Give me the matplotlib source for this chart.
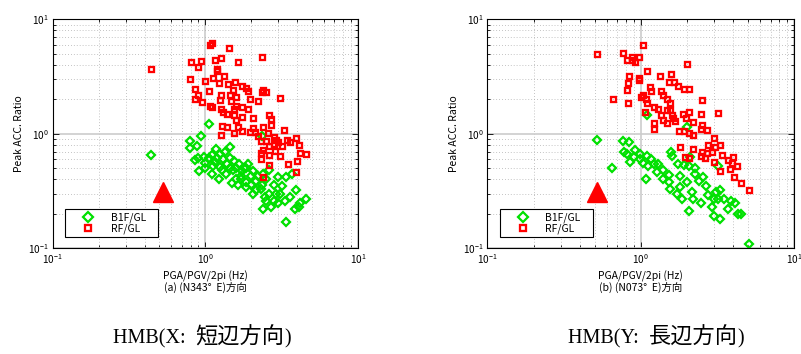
import matplotlib
matplotlib.use("Agg")
import matplotlib.pyplot as plt
from matplotlib.ticker import LogLocator, NullFormatter
from matplotlib.lines import Line2D
from matplotlib.offsetbox import TextArea, HPacker, AnnotationBbox

plt.rcParams['font.family'] = ['Noto Sans CJK JP', 'DejaVu Sans']
plt.rcParams['mathtext.fontset'] = 'dejavusans'

# (a) N343E direction
freq_rf_a = [0.44, 1.07, 1.10, 1.42, 2.35, 0.80, 0.93, 0.90, 1.16, 1.27, 1.64, 1.20, 1.20, 0.79,
             1.00, 1.13, 1.33, 1.22, 1.40, 1.56, 0.86, 1.05, 0.89, 0.86, 0.95, 1.07, 1.10, 1.27,
             1.45, 1.52, 1.48, 1.60, 1.75, 1.85, 1.90, 1.95, 2.20, 2.35, 2.40, 2.50, 3.10, 1.27,
             1.30, 1.38, 1.53, 1.60, 1.75, 1.90, 1.73, 1.58, 2.05, 1.29, 1.39, 1.64, 1.75, 2.05,
             2.10, 1.27, 1.55, 1.95, 2.20, 2.40, 2.60, 2.70, 2.70, 2.58, 2.80, 2.90, 3.30, 3.45,
             3.90, 4.10, 3.60, 3.20, 2.60, 2.40, 2.30, 2.60, 2.85, 3.10, 4.20, 4.60, 4.00, 3.50,
             2.60, 2.30, 2.40, 3.90, 2.80, 2.50, 3.00, 2.30, 1.25, 1.53]
ratio_rf_a = [3.65, 5.95, 6.20, 5.60, 4.65, 4.20, 4.35, 3.85, 4.40, 4.55, 4.20, 3.70, 3.50, 3.00,
              2.90, 3.05, 3.20, 2.80, 2.70, 2.85, 2.45, 2.35, 2.20, 2.00, 1.90, 1.75, 1.70, 2.20,
              2.20, 2.40, 1.95, 2.10, 2.60, 2.50, 2.35, 2.00, 1.95, 2.30, 2.40, 2.30, 2.05, 1.65,
              1.55, 1.50, 1.45, 1.75, 1.73, 1.65, 1.40, 1.33, 1.37, 1.17, 1.15, 1.15, 1.06, 1.12,
              1.04, 0.98, 1.02, 1.04, 0.96, 1.15, 1.47, 1.35, 1.20, 1.01, 0.93, 0.88, 1.07, 0.89,
              0.91, 0.80, 0.84, 0.78, 0.78, 0.72, 0.68, 0.65, 0.71, 0.64, 0.68, 0.67, 0.58, 0.55,
              0.53, 0.60, 0.42, 0.46, 0.82, 0.87, 0.84, 0.87, 1.98, 1.65]
freq_b1_a = [0.44, 1.06, 0.79, 0.93, 0.79, 0.88, 0.89, 0.86, 0.91, 1.00, 1.10, 1.17, 1.25, 1.35,
             1.44, 1.10, 1.23, 1.37, 1.45, 1.53, 1.63, 1.60, 1.50, 1.90, 1.85, 1.72, 1.85, 2.05,
             2.15, 2.35, 2.40, 2.50, 2.70, 2.80, 3.00, 3.10, 3.35, 3.40, 3.40, 3.70, 3.95, 3.85,
             4.10, 4.20, 4.60, 3.00, 2.80, 2.50, 2.20, 2.05, 2.00, 1.80, 1.65, 1.52, 1.38, 1.25,
             1.15, 1.05, 0.98, 1.28, 1.70, 1.85, 2.15, 2.40, 2.60, 2.35, 1.20, 1.30, 1.45, 1.60,
             1.75, 2.00, 2.30, 2.60, 2.90, 3.20, 1.12, 1.00, 2.45, 3.60]
ratio_b1_a = [0.65, 1.21, 0.87, 0.95, 0.75, 0.78, 0.61, 0.59, 0.47, 0.56, 0.65, 0.74, 0.67, 0.69,
              0.76, 0.45, 0.40, 0.45, 0.50, 0.58, 0.36, 0.40, 0.37, 0.55, 0.50, 0.43, 0.34, 0.30,
              0.32, 0.36, 0.22, 0.26, 0.23, 0.26, 0.25, 0.30, 0.26, 0.17, 0.42, 0.45, 0.32, 0.22,
              0.23, 0.25, 0.27, 0.42, 0.36, 0.40, 0.43, 0.47, 0.43, 0.50, 0.54, 0.48, 0.55, 0.51,
              0.57, 0.61, 0.63, 0.48, 0.40, 0.38, 0.39, 0.45, 0.48, 0.95, 0.62, 0.60, 0.62, 0.50,
              0.47, 0.36, 0.33, 0.30, 0.30, 0.35, 0.52, 0.50, 0.28, 0.28]

# (b) N073E direction
freq_rf_b = [0.52, 1.04, 2.00, 0.77, 0.81, 0.87, 0.91, 0.97, 0.88, 1.10, 0.84, 0.82, 0.81, 0.97,
             0.98, 0.66, 0.83, 1.33, 1.58, 1.65, 1.52, 1.75, 1.90, 2.05, 2.50, 3.20, 1.14, 1.17,
             1.04, 1.08, 1.10, 1.07, 1.22, 1.36, 1.40, 1.47, 1.55, 1.30, 1.36, 1.47, 1.60, 1.40,
             1.47, 1.63, 1.88, 2.05, 1.98, 2.20, 2.45, 2.50, 1.22, 1.22, 1.77, 1.90, 2.05, 2.18,
             2.45, 2.70, 1.80, 1.95, 2.05, 2.20, 2.50, 2.75, 3.00, 2.70, 2.90, 3.00, 3.05, 3.30,
             3.40, 3.30, 3.70, 3.90, 4.00, 4.20, 3.80, 4.05, 4.50, 5.10, 2.45, 2.60, 1.67, 1.55,
             1.00]
ratio_rf_b = [4.95, 5.95, 4.10, 5.05, 4.40, 4.40, 4.25, 4.70, 4.70, 3.55, 3.20, 2.75, 2.40, 2.95,
              3.05, 2.00, 1.85, 3.20, 3.30, 2.85, 2.85, 2.60, 2.45, 2.45, 1.97, 1.53, 2.55, 2.35,
              2.20, 2.00, 1.85, 1.55, 1.73, 2.35, 2.20, 2.00, 1.85, 1.65, 1.45, 1.60, 1.45, 1.33,
              1.25, 1.37, 1.50, 1.55, 1.37, 1.28, 1.50, 1.20, 1.25, 1.10, 1.06, 1.05, 1.02, 0.98,
              1.10, 1.08, 0.77, 0.63, 0.62, 0.74, 0.69, 0.80, 0.91, 0.68, 0.70, 0.57, 0.76, 0.80,
              0.65, 0.47, 0.59, 0.56, 0.63, 0.52, 0.49, 0.42, 0.37, 0.32, 0.64, 0.62, 1.30, 1.60,
              2.10]
freq_b1_b = [0.52, 0.65, 1.08, 1.09, 2.00, 0.77, 0.84, 0.78, 0.81, 0.85, 0.92, 0.90, 0.99, 1.10,
             1.17, 1.22, 1.12, 1.30, 1.40, 1.52, 1.52, 1.55, 1.57, 1.60, 1.75, 1.80, 1.85, 2.05,
             2.00, 2.15, 2.25, 2.40, 2.20, 2.45, 2.65, 2.75, 2.90, 3.00, 3.10, 3.20, 3.30, 3.50,
             3.70, 3.85, 4.10, 4.30, 4.50, 5.10, 2.05, 2.25, 2.55, 1.80, 1.72, 3.20, 1.90, 1.40,
             1.27, 0.99, 1.04, 2.10, 3.30, 3.00]
ratio_b1_b = [0.88, 0.50, 0.40, 1.45, 1.15, 0.87, 0.84, 0.70, 0.66, 0.57, 0.72, 0.63, 0.66, 0.64,
              0.60, 0.54, 0.52, 0.55, 0.48, 0.44, 0.38, 0.33, 0.70, 0.64, 0.55, 0.43, 0.27, 0.21,
              0.38, 0.31, 0.45, 0.39, 0.27, 0.25, 0.35, 0.29, 0.23, 0.19, 0.31, 0.27, 0.18, 0.27,
              0.22, 0.26, 0.25, 0.20, 0.20, 0.11, 0.52, 0.50, 0.42, 0.34, 0.30, 0.52, 0.53, 0.40,
              0.46, 0.60, 0.56, 0.63, 0.32, 0.27]

# building natural frequency marker (freq, ratio) for each direction
tri_a = (0.53, 0.31)
tri_b = (0.52, 0.31)

subtitles = ["(a) (N343°  E)方向", "(b) (N073°  E)方向"]
captions = [("HMB(X:  ", "短辺方向", ")"), ("HMB(Y:  ", "長辺方向", ")")]

GREEN = '#00e000'
RED = '#ff0000'
DIAMOND = dict(ls='none', marker='D', ms=4.0, mfc='none', mec=GREEN, mew=1.6)
SQUARE = dict(ls='none', marker='s', ms=3.6, mfc='none', mec=RED, mew=1.65)

fig = plt.figure(figsize=(8.01, 3.54), dpi=100)
ax_a = fig.add_axes([0.0658, 0.2986, 0.3811, 0.6469])
ax_b = fig.add_axes([0.6084, 0.2986, 0.3833, 0.6469])

panels = [
    (ax_a, freq_b1_a, ratio_b1_a, freq_rf_a, ratio_rf_a, tri_a, subtitles[0]),
    (ax_b, freq_b1_b, ratio_b1_b, freq_rf_b, ratio_rf_b, tri_b, subtitles[1]),
]

for ax, fb, rb, fr, rr, tri, sub in panels:
    ax.set_xscale('log')
    ax.set_yscale('log')
    ax.set_xlim(0.1, 10)
    ax.set_ylim(0.1, 10)
    ax.set_axisbelow(True)
    ax.grid(which='major', color='#cccccc', lw=1.2, ls='-')
    ax.grid(which='minor', color='#b0b0b0', lw=0.6, ls=(0, (1, 2.5)))
    for ax_ in (ax.xaxis, ax.yaxis):
        ax_.set_major_locator(LogLocator(base=10, numticks=5))
        ax_.set_minor_locator(LogLocator(base=10, subs=range(2, 10), numticks=20))
        ax_.set_minor_formatter(NullFormatter())
    ax.tick_params(which='both', direction='in', top=True, right=True,
                   labelsize=7.3, width=0.6, color='black')
    ax.tick_params(which='major', length=4, pad=2.5)
    ax.tick_params(which='minor', length=2)
    for s in ax.spines.values():
        s.set_linewidth(0.8)

    ax.plot(fb, rb, **DIAMOND)
    ax.plot(fr, rr, **SQUARE)
    ax.plot([tri[0]], [tri[1]], ls='none', marker='^', ms=15, color=RED, mec=RED)

    ax.set_ylabel('Peak ACC. Ratio', fontsize=7.5, labelpad=3)
    ax.text(0.5, -0.121, 'PGA/PGV/2pi (Hz)', transform=ax.transAxes,
            ha='center', va='center', fontsize=7.5)
    ax.text(0.5, -0.173, sub, transform=ax.transAxes,
            ha='center', va='center', fontsize=7.5)

    handles = [Line2D([], [], **DIAMOND), Line2D([], [], **SQUARE)]
    leg = ax.legend(handles, ['B1F/GL', 'RF/GL'], loc='lower left',
                    bbox_to_anchor=(0.04, 0.049, 0.305, 0.11), mode='expand',
                    borderaxespad=0, fancybox=False, framealpha=1, edgecolor='black',
                    fontsize=7.5, handletextpad=0.3, borderpad=0.3, labelspacing=0.05,
                    handlelength=3.8, markerscale=1.25)
    leg.get_frame().set_linewidth(0.8)

# captions under each panel: Latin part in a serif face, Japanese part in CJK
latin = dict(fontsize=14.5, family=['Liberation Serif'])
kanji = dict(fontsize=16, family=['Noto Sans CJK JP'])
for (head, body, tail), x0 in zip(captions, [113 / 801, 568 / 801]):
    pack = HPacker(children=[TextArea(head, textprops=latin),
                             TextArea(body, textprops=kanji),
                             TextArea(tail, textprops=latin)],
                   sep=0, pad=0, align='baseline')
    ab = AnnotationBbox(pack, (x0, 0.048), xycoords='figure fraction',
                        box_alignment=(0, 0.5), frameon=False, pad=0)
    fig.add_artist(ab)

fig.savefig('out.png', dpi=100)
